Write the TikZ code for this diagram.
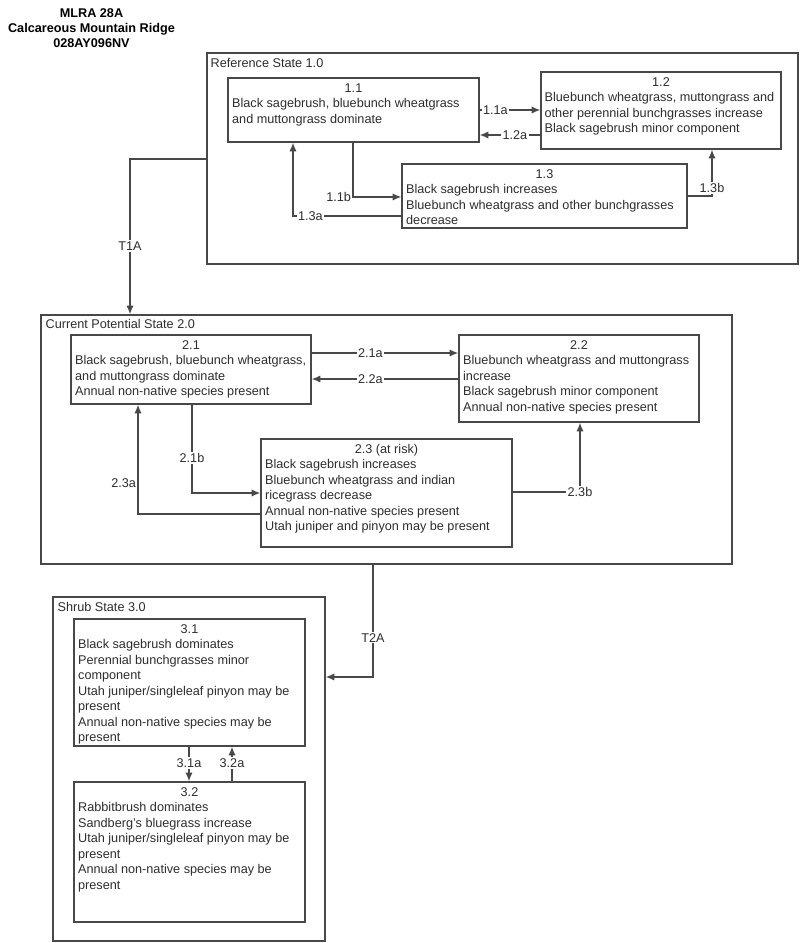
\documentclass[tikz,border=0pt]{standalone}
\usepackage{fontspec}
\setmainfont{Liberation Sans}
\usetikzlibrary{arrows.meta,fit}

\tikzset{every picture/.style={line width=1pt}}
\tikzset{
  frame/.style={draw={rgb,255:red,72;green,72;blue,72}, inner sep=0pt},
  stbox/.style={draw={rgb,255:red,72;green,72;blue,72}, inner sep=0pt},
  stnum/.style={anchor=base, inner sep=0pt, text={rgb,255:red,45;green,45;blue,45}, font=\fontsize{9.5pt}{11.6pt}\selectfont},
  sttxt/.style={anchor=north west, align=left, inner sep=0pt, text={rgb,255:red,45;green,45;blue,45}, font=\fontsize{9.5pt}{11.6pt}\selectfont},
  frlbl/.style={anchor=base west, inner sep=0pt, text={rgb,255:red,45;green,45;blue,45}, font=\fontsize{9.5pt}{11.6pt}\selectfont},
  ttl/.style={anchor=north, align=center, inner sep=0pt, font=\bfseries\fontsize{9.5pt}{11.25pt}\selectfont},
  tr/.style={draw={rgb,255:red,72;green,72;blue,72}, -{Latex[length=6.5pt,width=5.4pt]}},
  lbl/.style={fill=white, inner sep=1pt, text={rgb,255:red,45;green,45;blue,45}, font=\fontsize{9.5pt}{11.6pt}\selectfont}
}

\begin{document}
\begin{tikzpicture}[x=0.75pt,y=0.75pt,yscale=-1,xscale=1]
\useasboundingbox (0,0) rectangle (800,943);

% Text Node
\node[ttl] (title) at (91.5,7.8) {MLRA 28A\\Calcareous Mountain Ridge\\028AY096NV};

%Shape: Rectangle [state frames]
\node[frame, fit={(207,53) (798,264)}] (ref) {};
\node[frame, fit={(41,315) (732,564)}] (cur) {};
\node[frame, fit={(53,597) (325,941)}] (shrub) {};
% Text Node
\node[frlbl] (lref) at (210,67.5) {Reference State 1.0};
\node[frlbl] (lcur) at (45,328.5) {Current Potential State 2.0};
\node[frlbl] (lshrub) at (57,611.5) {Shrub State 3.0};

%Shape: Rectangle [community phases]
\node[stbox, fit={(228,78) (479,142)}] (s11) {};
\node[stbox, fit={(541,72) (781,149)}] (s12) {};
\node[stbox, fit={(402,164) (687,228)}] (s13) {};
\node[stbox, fit={(71,335) (311,404)}] (s21) {};
\node[stbox, fit={(459,335) (699,422)}] (s22) {};
\node[stbox, fit={(261,439) (512,547)}] (s23) {};
\node[stbox, fit={(74,619) (305,746)}] (s31) {};
\node[stbox, fit={(74,782) (305,922)}] (s32) {};

% Text Node
\node[stnum] (n11) at (s11.north |- 0,92.5) {1.1};
\node[sttxt] (t11) at (231.5,98) {Black sagebrush, bluebunch wheatgrass\\and muttongrass dominate};
% Text Node
\node[stnum] (n12) at (s12.north |- 0,86.5) {1.2};
\node[sttxt] (t12) at (544,92) {Bluebunch wheatgrass, muttongrass and\\other perennial bunchgrasses increase\\Black sagebrush minor component};
% Text Node
\node[stnum] (n13) at (s13.north |- 0,178.5) {1.3};
\node[sttxt] (t13) at (405.5,184) {Black sagebrush increases\\Bluebunch wheatgrass and other bunchgrasses\\decrease};
% Text Node
\node[stnum] (n21) at (s21.north |- 0,349.5) {2.1};
\node[sttxt] (t21) at (74.5,355) {Black sagebrush, bluebunch wheatgrass,\\and muttongrass dominate\\Annual non-native species present};
% Text Node
\node[stnum] (n22) at (s22.north |- 0,349.5) {2.2};
\node[sttxt] (t22) at (462.5,355) {Bluebunch wheatgrass and muttongrass\\increase\\Black sagebrush minor component\\Annual non-native species present};
% Text Node
\node[stnum] (n23) at (s23.north |- 0,453.5) {2.3 (at risk)};
\node[sttxt] (t23) at (264.5,459) {Black sagebrush increases\\Bluebunch wheatgrass and indian\\ricegrass decrease\\Annual non-native species present\\Utah juniper and pinyon may be present};
% Text Node
\node[stnum] (n31) at (s31.north |- 0,633.5) {3.1};
\node[sttxt] (t31) at (77.5,639) {Black sagebrush dominates\\Perennial bunchgrasses minor\\component\\Utah juniper/singleleaf pinyon may be\\present\\Annual non-native species may be\\present};
% Text Node
\node[stnum] (n32) at (s32.north |- 0,796.5) {3.2};
\node[sttxt] (t32) at (77.5,802) {Rabbitbrush dominates\\Sandberg's bluegrass increase\\Utah juniper/singleleaf pinyon may be\\present\\Annual non-native species may be\\present};

%Straight Lines [pathways, state 1.0]
\draw[tr] (s11.east |- 0,110) -- node[lbl, pos=0.26] (p11a) {1.1a} (s12.west |- 0,110);
\draw[tr] (s12.west |- 0,135) -- node[lbl, pos=0.42] (p12a) {1.2a} (s11.east |- 0,135);
\draw[tr] (353,0 |- s11.south) -- (353,197) node[lbl, anchor=east] (p11b) {1.1b} -- (s13.west |- 0,197);
\draw[tr] (s13.west |- 0,216) -- node[lbl, pos=0.84] (p13a) {1.3a} (293,216) -- (293,0 |- s11.south);
\draw[tr] (s13.east |- 0,196) -- (712,196) -- node[lbl, pos=0.17] (p13b) {1.3b} (712,0 |- s12.south);

%Straight Lines [transition T1A]
\draw[tr] (ref.west |- 0,159) -- (130,159) -- node[lbl, pos=0.56] (pT1A) {T1A} (130,0 |- cur.north);

%Straight Lines [pathways, state 2.0]
\draw[tr] (s21.east |- 0,353) -- node[lbl, pos=0.40] (p21a) {2.1a} (s22.west |- 0,353);
\draw[tr] (s22.west |- 0,379) -- node[lbl, pos=0.60] (p22a) {2.2a} (s21.east |- 0,379);
\draw[tr] (192,0 |- s21.south) -- node[lbl, pos=0.6] (p21b) {2.1b} (192,493) -- (s23.west |- 0,493);
\draw[tr] (s23.west |- 0,514) -- (138,514) -- node[lbl, anchor=east, pos=0.28] (p23a) {2.3a} (138,0 |- s21.south);
\draw[tr] (s23.east |- 0,492) -- (580,492) node[lbl] (p23b) {2.3b} -- (580,0 |- s22.south);

%Straight Lines [transition T2A]
\draw[tr] (373,0 |- cur.south) -- node[lbl, pos=0.65] (pT2A) {T2A} (373,677) -- (shrub.east |- 0,677);

%Straight Lines [pathways, state 3.0]
\draw[tr] (189,0 |- s31.south) -- node[lbl, pos=0.47] (p31a) {3.1a} (189,0 |- s32.north);
\draw[tr] (232,0 |- s32.north) -- node[lbl, pos=0.53] (p32a) {3.2a} (232,0 |- s31.south);

\end{tikzpicture}
\end{document}
